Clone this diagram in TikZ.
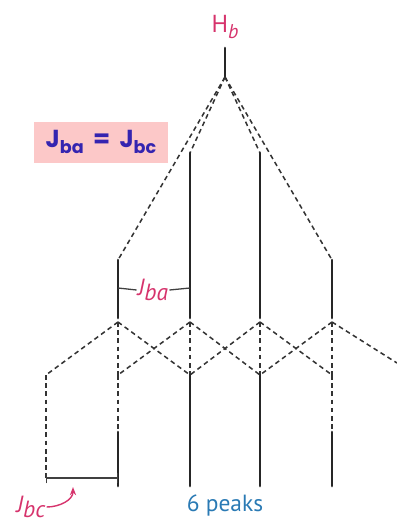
\documentclass[tikz,border=0pt]{standalone}
\usepackage{fontspec}
\setmainfont{PT Sans}
\newfontfamily\boxfont{Poppins}
\usetikzlibrary{arrows.meta}
\definecolor{labelpink}{HTML}{D6336C}
\definecolor{peakblue}{HTML}{2A7AB4}
\definecolor{eqblue}{HTML}{3424B0}
\definecolor{boxpink}{HTML}{FCC8C8}

\begin{document}
\begin{tikzpicture}[x=0.03cm, y=-0.03cm]

% --- Styles ---
\tikzset{
    peak/.style={line width=2.3pt, black!85, line cap=round},
    split/.style={line width=1.3pt, black!80, dash pattern=on 4pt off 3pt},
    jlabel/.style={text=labelpink, font=\fontsize{20}{22}\selectfont, inner sep=1pt},
    spacing/.style={line width=1.1pt, black!75},
}
\useasboundingbox (0,0) rectangle (397,526);

% --- Row 0: Hb line ---
\node[jlabel, font=\fontsize{21}{23}\selectfont] (hb) at (225,27) {H{\fontsize{17}{17}\selectfont\raisebox{-5pt}{\textit{b}}}};
\coordinate (top0) at (225,48);
\coordinate (top1) at (225,77);
\draw[peak] (top0) -- (top1);

% --- Row 1: split by J_ba ---
\coordinate (p1t) at (118,260);
\coordinate (p1b) at (118,318);
\coordinate (p2t) at (190,153);
\coordinate (p2b) at (190,318);
\coordinate (p3t) at (260,153);
\coordinate (p3b) at (260,318);
\coordinate (p4t) at (332,260);
\coordinate (p4b) at (332,318);

\draw[split] (top1) -- (p1t);
\draw[split] (top1) -- (p2t);
\draw[split] (top1) -- (p3t);
\draw[split] (top1) -- (p4t);

\draw[peak] (p1t) -- (p1b);
\draw[peak] (p2t) -- (p2b);
\draw[peak] (p3t) -- (p3b);
\draw[peak] (p4t) -- (p4b);

\node[jlabel] (jba) at (153,290) {\textit{J\raisebox{-5pt}{ba}}};
\coordinate (bal) at (118,288);
\coordinate (bar) at (190,288);
\draw[spacing] (bal) -- (jba.west);
\draw[spacing] (jba.east) -- (bar);

% --- Row 2: split by J_bc ---
\coordinate (s1) at (118,322);
\coordinate (s2) at (190,322);
\coordinate (s3) at (260,322);
\coordinate (s4) at (332,322);
\coordinate (q0) at (46,375);
\coordinate (q1) at (118,375);
\coordinate (q2) at (190,375);
\coordinate (q3) at (260,375);
\coordinate (q4) at (332,375);
\coordinate (q5) at (397,363);

\draw[split] (s1) -- (q0);
\draw[split] (s1) -- (q2);
\draw[split] (s2) -- (q1);
\draw[split] (s2) -- (q3);
\draw[split] (s3) -- (q2);
\draw[split] (s3) -- (q4);
\draw[split] (s4) -- (q3);
\draw[split] (s4) -- (q5);

\draw[split] (s1) -- (q1);
\draw[split] (s2) -- (q2);
\draw[split] (s3) -- (q3);
\draw[split] (s4) -- (q4);

% --- Row 3: final lines ---
\coordinate (m0) at (46,478);
\coordinate (m1) at (118,432);
\coordinate (m4) at (332,432);
\coordinate (e1) at (118,486);
\coordinate (e2) at (190,486);
\coordinate (e3) at (260,486);
\coordinate (e4) at (332,486);

\draw[split] (q0) -- (m0);
\draw[split] (q1) -- (m1);
\draw[split] (q4) -- (m4);
\draw[peak] (m1) -- (e1);
\draw[peak] (q2) -- (e2);
\draw[peak] (q3) -- (e3);
\draw[peak] (m4) -- (e4);

\coordinate (bcr) at (118,478);
\draw[spacing, {Bar[width=9pt]}-{Bar[width=9pt]}] (m0) -- (bcr);

\node[jlabel] (jbc) at (31,507) {\textit{J\raisebox{-5pt}{bc}}};
\coordinate (bctip) at (73,487);
\draw[-{Stealth[length=7pt]}, line width=1.2pt, labelpink] (jbc.east) to[out=0, in=-90] (bctip);

\node[text=peakblue, font=\fontsize{20}{22}\selectfont] (six) at (225,505) {6 peaks};

% --- Equality box ---
\node[fill=boxpink, minimum width=4.02cm, minimum height=1.23cm, text=eqblue,
      font=\boxfont\bfseries\fontsize{21}{23}\selectfont] (eqbox) at (101,142)
    {J\raisebox{-5pt}{\fontsize{15}{15}\selectfont ba}\,\ =\ \,J\raisebox{-5pt}{\fontsize{15}{15}\selectfont bc}};

\end{tikzpicture}
\end{document}
